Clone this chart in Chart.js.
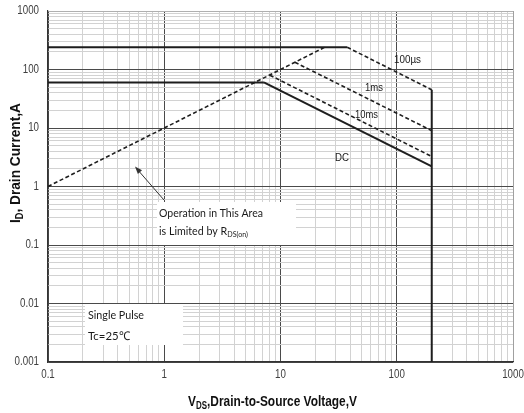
<!DOCTYPE html>
<html>
<head>
<meta charset="utf-8">
<script src="https://cdn.jsdelivr.net/npm/chart.js@4/dist/chart.umd.min.js"></script>
<style>
  html, body { margin: 0; padding: 0; background: #fff; }
  #wrap { width: 524px; height: 413px; position: relative; }
</style>
</head>
<body>
<div id="wrap"><canvas id="soa"></canvas></div>
<script>
// axis decades and their labels
const xDecades = [0.1, 1, 10, 100, 1000];
const xTickLabels = ["0.1", "1", "10", "100", "1000"];
const yDecades = [0.001, 0.01, 0.1, 1, 10, 100, 1000];
const yTickLabels = ["0.001", "0.01", "0.1", "1", "10", "100", "1000"];

// SOA boundary segments (VDS in V, ID in A)
const rdsLimitV = [0.1, 24];
const rdsLimitI = [1, 240];
const peakV = [0.1, 37.5];
const peakI = [240, 240];
const contV = [0.1, 7.2];
const contI = [60, 60];
const pulse100usV = [37.5, 200];
const pulse100usI = [240, 45];
const pulse1msV = [13.3, 200];
const pulse1msI = [133, 9];
const pulse10msV = [8.1, 200];
const pulse10msI = [80, 3.25];
const dcV = [7.2, 200];
const dcI = [60, 2.2];
const breakdownV = [200, 200];
const breakdownI = [45, 0.001];

function pts(xs, ys) {
  return xs.map((x, i) => ({ x: x, y: ys[i] }));
}

// every decade plus 2..9 inside it
function gridValues(decades) {
  const out = [];
  decades.forEach((d, i) => {
    out.push(d);
    if (i < decades.length - 1) {
      for (let k = 2; k <= 9; k++) out.push(d * k);
    }
  });
  return out;
}

const xGrid = gridValues(xDecades);
const yGrid = gridValues(yDecades);

function isDecade(list, v) {
  return list.some(d => Math.abs(v / d - 1) < 1e-6);
}

const solid = { borderColor: "#1e1e1e", borderWidth: 2, borderDash: [] };
const dashed = { borderColor: "#1e1e1e", borderWidth: 1.6, borderDash: [4, 2.5] };

function line(data, style) {
  return Object.assign({ data: data, showLine: true, pointRadius: 0, fill: false }, style);
}

const sans = '"Liberation Sans", Arial, sans-serif';

// draws pieces of text (with subscripts) squeezed horizontally
// width = target width, or a number < 3 taken as a squeeze factor
function drawRich(ctx, parts, x, y, width, align) {
  let total = 0;
  parts.forEach(p => { ctx.font = p.font; p.w = ctx.measureText(p.t).width; total += p.w; });
  const sx = width > 3 ? width / total : (width || 1);
  ctx.save();
  ctx.translate(x, y);
  ctx.scale(sx, 1);
  let cx = align === "right" ? -total : align === "center" ? -total / 2 : 0;
  parts.forEach(p => {
    ctx.font = p.font;
    ctx.fillText(p.t, cx, p.dy || 0);
    cx += p.w;
  });
  ctx.restore();
}

const notes = {
  id: "notes",
  afterDraw(chart) {
    const ctx = chart.ctx;
    const xs = chart.scales.x, ys = chart.scales.y;
    ctx.save();
    ctx.textBaseline = "middle";

    // tick labels (narrow face)
    ctx.fillStyle = "#404040";
    const tf = "12.5px " + sans;
    xDecades.forEach((v, i) => {
      drawRich(ctx, [{ t: xTickLabels[i], font: tf }], xs.getPixelForValue(v), 375, 0.78, "center");
    });
    yDecades.forEach((v, i) => {
      drawRich(ctx, [{ t: yTickLabels[i], font: tf }], 39, ys.getPixelForValue(v), 0.78, "right");
    });

    // curve labels
    ctx.fillStyle = "#1a1a1a";
    const cf = "11.5px " + sans;
    drawRich(ctx, [{ t: "100\u00b5s", font: cf }], 394, 60, 27);
    drawRich(ctx, [{ t: "1ms", font: cf }], 365, 88, 18);
    drawRich(ctx, [{ t: "10ms", font: cf }], 355, 115, 23);
    drawRich(ctx, [{ t: "DC", font: cf }], 335, 158, 14);

    // white note boxes
    ctx.fillStyle = "#fff";
    ctx.fillRect(157, 202, 139, 43);
    ctx.fillRect(85, 304, 98, 41);
    ctx.fillStyle = "#1a1a1a";
    const cal = '12px Lato, "Open Sans", sans-serif';
    const calSub = '8px Lato, "Open Sans", sans-serif';
    drawRich(ctx, [{ t: "Operation in This Area", font: cal }], 159, 213, 104);
    drawRich(ctx, [{ t: "is Limited by R", font: cal }, { t: "DS(on)", font: calSub, dy: 3 }], 159, 231, 89);
    drawRich(ctx, [{ t: "Single Pulse", font: cal }], 88, 315, 56);
    drawRich(ctx, [{ t: "Tc=25\u2103", font: cal }], 88, 336, 42);

    // arrow
    ctx.strokeStyle = "#333";
    ctx.lineWidth = 1;
    ctx.beginPath();
    ctx.moveTo(164, 200);
    ctx.lineTo(137, 169);
    ctx.stroke();
    const ang = Math.atan2(169 - 200, 137 - 164);
    ctx.beginPath();
    ctx.moveTo(135, 166.5);
    ctx.lineTo(135 - 8 * Math.cos(ang - 0.35), 166.5 - 8 * Math.sin(ang - 0.35));
    ctx.lineTo(135 - 8 * Math.cos(ang + 0.35), 166.5 - 8 * Math.sin(ang + 0.35));
    ctx.closePath();
    ctx.fillStyle = "#333";
    ctx.fill();

    // axis titles
    ctx.fillStyle = "#111";
    ctx.textBaseline = "alphabetic";
    const tb = "bold 15px " + sans;
    const ts = "bold 10px " + sans;
    drawRich(ctx, [{ t: "V", font: tb }, { t: "DS", font: ts, dy: 3 }, { t: ",Drain-to-Source Voltage,V", font: tb }], 188, 406, 169);
    ctx.save();
    ctx.translate(20, 223);
    ctx.rotate(-Math.PI / 2);
    drawRich(ctx, [{ t: "I", font: tb }, { t: "D", font: ts, dy: 3 }, { t: ", Drain Current,A", font: tb }], 0, 0, 120);
    ctx.restore();
    ctx.restore();
  }
};

new Chart(document.getElementById("soa"), {
  type: "scatter",
  data: {
    datasets: [
      line(pts(peakV, peakI), solid),
      line(pts(contV, contI), solid),
      line(pts(rdsLimitV, rdsLimitI), dashed),
      line(pts(pulse100usV, pulse100usI), dashed),
      line(pts(pulse1msV, pulse1msI), dashed),
      line(pts(pulse10msV, pulse10msI), dashed),
      line(pts(dcV, dcI), solid),
      line(pts(breakdownV, breakdownI), solid),
    ],
  },
  plugins: [notes],
  options: {
    responsive: true,
    maintainAspectRatio: false,
    animation: false,
    layout: { padding: { top: 11, right: 11, left: 0, bottom: 0 } },
    plugins: { legend: { display: false }, tooltip: { enabled: false } },
    scales: {
      x: {
        type: "logarithmic",
        min: 0.1,
        max: 1000,
        afterBuildTicks: s => { s.ticks = xGrid.map(v => ({ value: v })); },
        afterFit: s => { s.height = 51; s.paddingLeft = 0; s.paddingRight = 0; },
        grid: {
          drawTicks: false,
          color: c => c.tick && isDecade(xDecades, c.tick.value) && c.tick.value < 1000 ? "#4a4a4a" : (c.tick && c.tick.value >= 1000 ? "#a0a0a0" : "#d2d2d2"),
        },
        border: { color: "#333", width: 1.2 },
        ticks: { display: false, autoSkip: false },
      },
      y: {
        type: "logarithmic",
        min: 0.001,
        max: 1000,
        afterBuildTicks: s => { s.ticks = yGrid.map(v => ({ value: v })); },
        afterFit: s => { s.width = 48; s.paddingTop = 0; s.paddingBottom = 0; },
        grid: {
          drawTicks: false,
          color: c => c.tick && isDecade(yDecades, c.tick.value) && c.tick.value < 1000 ? "#4a4a4a" : (c.tick && c.tick.value >= 1000 ? "#b0b0b0" : "#d2d2d2"),
        },
        border: { color: "#333", width: 1.2 },
        ticks: { display: false, autoSkip: false },
      },
    },
  },
});
</script>
</body>
</html>
